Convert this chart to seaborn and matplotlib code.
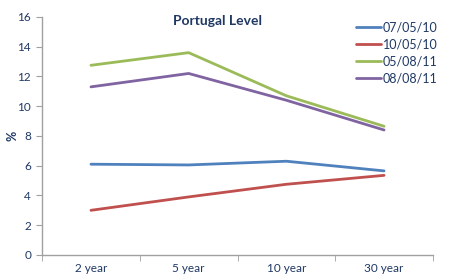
import pandas as pd
import seaborn as sns
import matplotlib.pyplot as plt
from matplotlib.ticker import FixedLocator

# DATE
maturities = ["2 year", "5 year", "10 year", "30 year"]
dates = ["07/05/10", "10/05/10", "05/08/11", "08/08/11"]
v_070510 = [6.1, 6.05, 6.3, 5.65]
v_100510 = [3.0, 3.9, 4.75, 5.35]
v_050811 = [12.75, 13.6, 10.7, 8.65]
v_080811 = [11.3, 12.2, 10.4, 8.4]
colors = ["#4F81BD", "#C0504D", "#9BBB59", "#8064A2"]

rows = []
for d, vals in zip(dates, [v_070510, v_100510, v_050811, v_080811]):
    for i, v in enumerate(vals):
        rows.append({"pos": i, "maturity": maturities[i], "date": d, "value": v})
df = pd.DataFrame(rows)

sns.set_style("white")
plt.rcParams['font.family'] = ['Lato', 'DejaVu Sans']
txt = "#1F3864"

fig = plt.figure(figsize=(4.68, 2.78), dpi=100)
ax = fig.add_axes([0.09, 0.083, 0.835, 0.856])
sns.lineplot(data=df, x="pos", y="value", hue="date", hue_order=dates,
             palette=colors, linewidth=2.0, ax=ax)

ax.set_xlim(-0.5, 3.5)
ax.set_ylim(0, 16)
ax.set_yticks(range(0, 17, 2))
ax.set_xticks(range(4))
ax.set_xticklabels(maturities)
ax.xaxis.set_minor_locator(FixedLocator([-0.5, 0.5, 1.5, 2.5, 3.5]))
ax.tick_params(axis="x", which="major", length=0, pad=6, labelsize=8.5, labelcolor=txt)
ax.tick_params(axis="x", which="minor", length=4, color="#A0A0A0", direction="out", bottom=True)
ax.tick_params(axis="y", length=4, color="#A0A0A0", direction="out", left=True, labelsize=8.5, labelcolor=txt, pad=4)
for s in ["top", "right"]:
    ax.spines[s].set_visible(False)
for s in ["left", "bottom"]:
    ax.spines[s].set_color("#A0A0A0")
    ax.spines[s].set_linewidth(1)
ax.set_xlabel("")
ax.set_ylabel("%", color=txt, fontsize=9, fontweight="bold")
ax.yaxis.set_label_coords(-0.06, 0.5)
ax.set_title("Portugal Level", color=txt, fontsize=10, fontweight="bold", x=0.45, y=0.93)

leg = ax.legend(loc="upper right", bbox_to_anchor=(1.04, 1.03), frameon=False,
                fontsize=9, handlelength=2.0, handletextpad=0.1, labelspacing=0.4)
for t in leg.get_texts():
    t.set_color(txt)

fig.savefig("out.png", dpi=100)
